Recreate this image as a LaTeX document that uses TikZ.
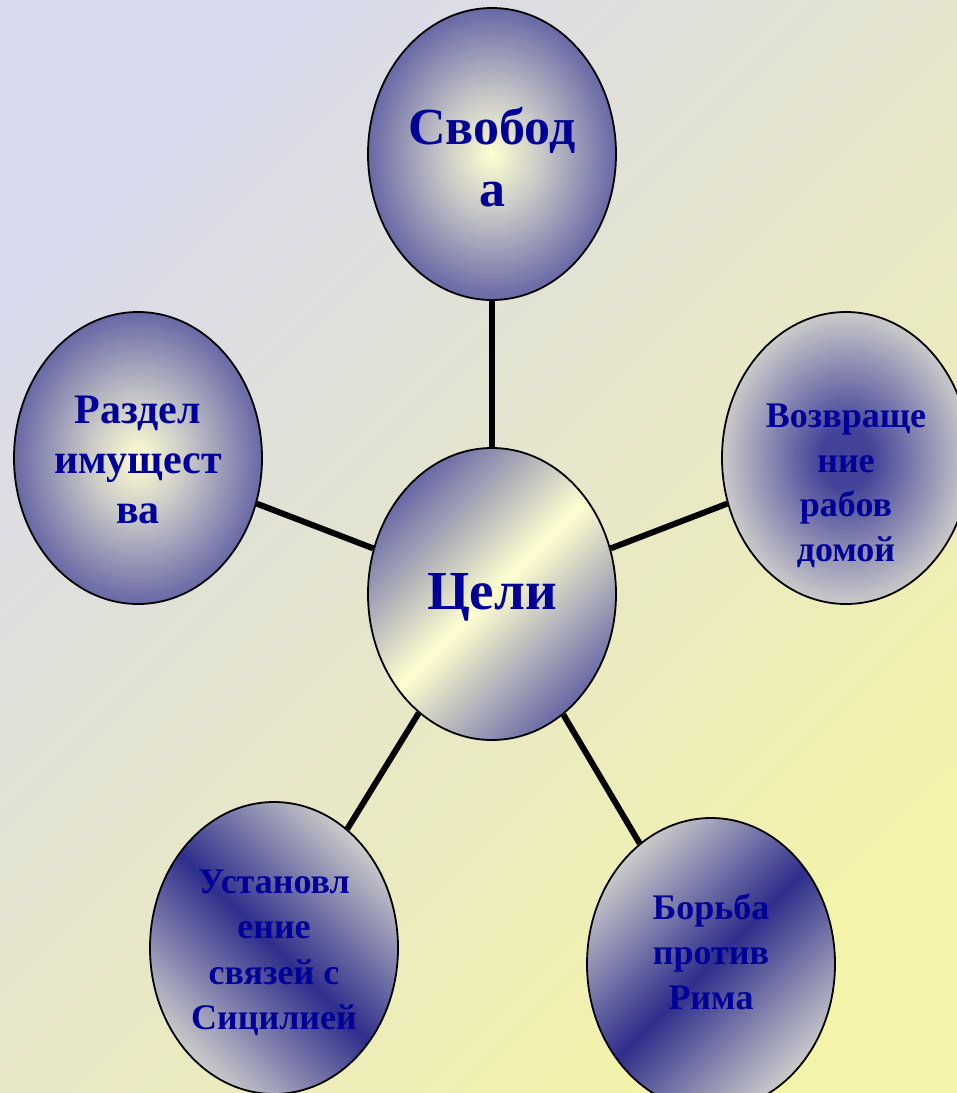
\documentclass[tikz,border=0pt]{standalone}
\usepackage{fontspec}
\setmainfont{Liberation Serif}
\usetikzlibrary{shapes.geometric}
\definecolor{txt}{RGB}{0,0,153}
\definecolor{purp}{RGB}{104,104,166}
\definecolor{ylw}{RGB}{255,255,208}
\definecolor{midg}{RGB}{200,200,200}
\definecolor{dblue}{RGB}{46,46,140}
\definecolor{lgrey}{RGB}{202,202,202}
\definecolor{rdark}{RGB}{66,66,152}
\definecolor{bgA}{RGB}{216,217,236}
\definecolor{bgB}{RGB}{244,243,170}
\pgfdeclareradialshading{radY}{\pgfpoint{0bp}{0bp}}{color(0bp)=(ylw); color(10bp)=(midg); color(25bp)=(purp); color(50bp)=(purp)}
\pgfdeclareradialshading{radD}{\pgfpoint{0bp}{0bp}}{color(0bp)=(rdark); color(5bp)=(rdark); color(25bp)=(lgrey); color(50bp)=(lgrey)}
\tikzset{
  bub/.style={ellipse, draw=black, line width=1.8pt, minimum width=248pt, minimum height=292pt, inner sep=0pt},
  radA/.style={shading=radY},
  radB/.style={shading=radD},
  linC/.style={top color=purp, bottom color=purp, middle color=ylw, shading angle=45},
  linR/.style={top color=lgrey, bottom color=lgrey, middle color=dblue, shading angle=45},
  linL/.style={top color=lgrey, bottom color=lgrey, middle color=dblue, shading angle=-45},
  conn/.style={line width=6pt, black},
  lbl/.style={text=txt, font=\bfseries, align=center, inner sep=0pt}
}
\begin{document}
\begin{tikzpicture}[x=1pt,y=-1pt]
\useasboundingbox (0,0) rectangle (957,1093);
\clip (0,0) rectangle (957,1093);
\shade[top color=bgA, bottom color=bgB, shading angle=45] (0,0) rectangle (957,1093);
\node[bub, radA] (t) at (492,154) {};
\node[bub, linC] (c) at (492,594) {};
\node[bub, radA] (l) at (138,458) {};
\node[bub, radB] (r) at (846,458) {};
\node[bub, linL] (bl) at (274,948) {};
\node[bub, linR] (br) at (711,964) {};
\draw[conn] (c) -- (t);
\draw[conn] (c) -- (l);
\draw[conn] (c) -- (r);
\draw[conn] (c) -- (bl);
\draw[conn] (c) -- (br);
\node[lbl, font=\bfseries\fontsize{52}{62}\selectfont] (tt) at (492,157) {Свобод\\а};
\node[lbl, font=\bfseries\fontsize{55}{66}\selectfont] (ct) at (492,597) {Цели};
\node[lbl, font=\bfseries\fontsize{42}{50}\selectfont] (lt) at (138,460) {Раздел\\имущест\\ва};
\node[lbl, font=\bfseries\fontsize{36}{44.5}\selectfont] (rt) at (846,486) {Возвраще\\ние\\рабов\\домой};
\node[lbl, font=\bfseries\fontsize{36}{45.5}\selectfont] (blt) at (274,953) {Установл\\ение\\связей с\\Сицилией};
\node[lbl, font=\bfseries\fontsize{36}{45}\selectfont] (brt) at (711,952) {Борьба\\против\\Рима};
\end{tikzpicture}
\end{document}
